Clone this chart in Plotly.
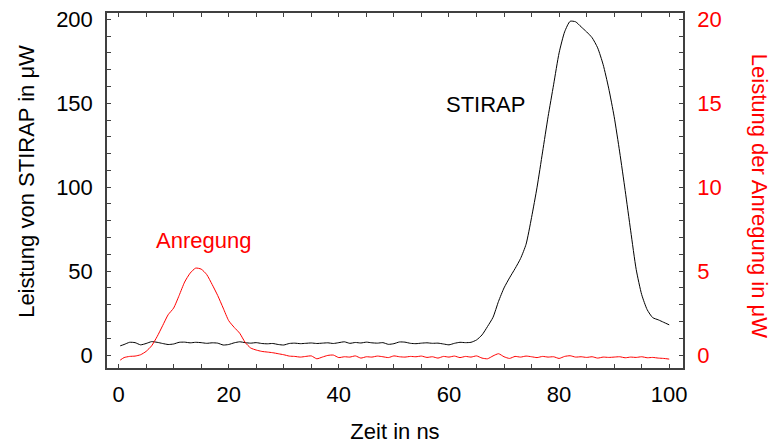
import plotly.graph_objects as go

# Sampling times in ns
time_ns = [0.3] + list(range(1, 101))

# STIRAP power (left axis, µW)
stirap_uw = [
    5.5, 6.3, 7.6, 7.4, 6.1, 6.9, 8.0, 7.6, 6.9, 6.3,
    6.6, 7.6, 7.7, 7.3, 7.6, 7.4, 7.0, 7.3, 7.1, 6.0,
    6.3, 7.3, 7.9, 7.4, 7.1, 7.4, 6.9, 6.7, 6.9, 6.3,
    6.0, 6.9, 7.1, 6.8, 7.0, 7.2, 6.9, 7.1, 7.3, 6.9,
    7.4, 7.9, 7.0, 7.5, 7.2, 7.7, 7.3, 7.1, 7.4, 6.4,
    6.8, 7.8, 7.7, 7.0, 6.8, 7.1, 7.3, 7.0, 7.1, 6.6,
    6.1, 7.0, 7.6, 7.4, 7.6, 9.0, 12.0, 17.0, 22.5, 32.0,
    40.0, 46.0, 51.5, 57.5, 66.0, 82.0, 100.0, 121.0, 142.0, 161.0,
    180.0, 192.5, 198.8, 198.5, 195.5, 192.5, 189.0, 183.0, 173.0, 159.0,
    142.0, 121.0, 98.0, 74.0, 51.0, 36.0, 27.0, 22.3, 21.0, 19.5,
    18.0,
]

# Excitation power (right axis, µW)
anregung_uw = [
    -0.30, -0.15, -0.08, -0.06, 0.02, 0.22, 0.55, 1.10, 1.75, 2.40,
    2.80, 3.55, 4.35, 4.88, 5.18, 5.12, 4.80, 4.20, 3.55, 2.80,
    2.05, 1.65, 1.30, 0.75, 0.42, 0.30, 0.22, 0.18, 0.14, 0.08,
    0.02, -0.06, -0.08, -0.12, -0.08, -0.05, -0.22, -0.12, -0.02, 0.00,
    -0.15, -0.10, -0.12, -0.05, -0.18, -0.10, -0.12, -0.06, -0.10, -0.15,
    -0.05, -0.10, -0.12, -0.08, -0.10, -0.06, -0.14, -0.10, -0.18, -0.08,
    -0.12, -0.06, -0.15, -0.08, -0.12, -0.05, -0.18, -0.22, -0.05, 0.08,
    -0.10, -0.20, -0.08, -0.12, -0.06, -0.10, -0.15, -0.08, -0.12, -0.10,
    -0.20, -0.08, -0.04, -0.12, -0.10, -0.14, -0.10, -0.18, -0.12, -0.14,
    -0.12, -0.10, -0.16, -0.12, -0.14, -0.10, -0.16, -0.14, -0.18, -0.20,
    -0.24,
]

FONT = "Liberation Sans, Arial, sans-serif"
FRAME = "#404040"
RED = "#ff0000"

fig = go.Figure()
fig.add_trace(go.Scatter(
    x=time_ns, y=stirap_uw, mode="lines",
    line=dict(color="black", width=1, shape="spline", smoothing=0.6),
    showlegend=False,
))
fig.add_trace(go.Scatter(
    x=time_ns, y=anregung_uw, mode="lines", yaxis="y2",
    line=dict(color=RED, width=1, shape="spline", smoothing=0.6),
    showlegend=False,
))

# Curve labels
fig.add_annotation(x=66.6, y=149, text="STIRAP", showarrow=False,
                   font=dict(family=FONT, size=22, color="black"))
fig.add_annotation(x=15.4, y=68, text="Anregung", showarrow=False,
                   font=dict(family=FONT, size=22, color=RED))

# Vertical axis titles, placed in paper coordinates
fig.add_annotation(xref="paper", yref="paper", x=-0.139, y=0.527,
                   text="Leistung von STIRAP in μW", textangle=-90,
                   showarrow=False, xanchor="center", yanchor="middle",
                   font=dict(family=FONT, size=22, color="black"))
fig.add_annotation(xref="paper", yref="paper", x=1.132, y=0.485,
                   text="Leistung der Anregung in μW", textangle=90,
                   showarrow=False, xanchor="center", yanchor="middle",
                   font=dict(family=FONT, size=22, color=RED))

tickfont = dict(family=FONT, size=22, color="black")

fig.update_layout(
    width=772, height=444,
    margin=dict(l=107, r=89, t=13, b=76, autoexpand=False),
    paper_bgcolor="white", plot_bgcolor="white",
    font=dict(family=FONT, size=22, color="black"),
    xaxis=dict(
        range=[-2.1, 102.5], dtick=20, tick0=0, automargin=False,
        showline=True, linecolor=FRAME, linewidth=1.5, mirror="ticks",
        ticks="inside", ticklen=4, tickcolor=FRAME, tickwidth=1,
        minor=dict(dtick=5, ticks="inside", ticklen=4, tickcolor=FRAME),
        showgrid=False, zeroline=False, tickfont=tickfont,
        ticklabelstandoff=6,
        title=dict(text="Zeit in ns", font=dict(family=FONT, size=22), standoff=25),
    ),
    yaxis=dict(
        range=[-7.7, 203.75], dtick=50, tick0=0, automargin=False,
        showline=True, linecolor=FRAME, linewidth=1.5,
        ticks="inside", ticklen=4, tickcolor=FRAME, tickwidth=1,
        minor=dict(dtick=10, ticks="inside", ticklen=4, tickcolor=FRAME),
        showgrid=False, zeroline=False, tickfont=tickfont,
        ticklabelstandoff=8,
    ),
    yaxis2=dict(
        range=[-0.77, 20.375], dtick=5, tick0=0, automargin=False,
        overlaying="y", side="right",
        showline=True, linecolor=FRAME, linewidth=1.5,
        ticks="inside", ticklen=4, tickcolor=FRAME, tickwidth=1,
        minor=dict(dtick=1, ticks="inside", ticklen=4, tickcolor=FRAME),
        showgrid=False, zeroline=False,
        tickfont=dict(family=FONT, size=22, color=RED),
        ticklabelstandoff=8,
    ),
)

fig.write_html("out.html")
